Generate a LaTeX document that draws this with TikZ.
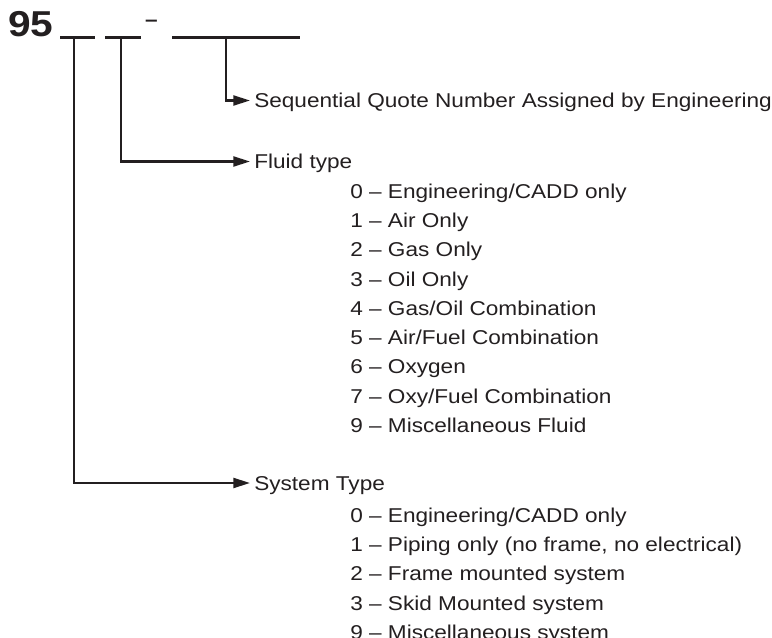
\documentclass[tikz,border=0pt]{standalone}
\usepackage{fontspec}
\setmainfont[FakeStretch=1.13]{Liberation Sans}
\usetikzlibrary{arrows.meta}
\definecolor{ink}{RGB}{35,31,32}

\begin{document}
\begin{tikzpicture}[x=0.75pt, y=-0.75pt, ink,
    item/.style={anchor=west, inner sep=0pt, text height=10.74pt, text depth=0pt, font=\fontsize{15}{18}\selectfont},
    title/.style={item, inner xsep=3pt},
    blank/.style={line width=1.6pt},
    lead/.style={line width=1.6pt, -{Triangle[length=12.5pt, width=7.5pt]}}]

    \useasboundingbox (0,0) rectangle (772,638);

    \node[anchor=base west, inner sep=0pt, font=\fontsize{27}{30}\selectfont\bfseries] (code) at (8,37) {95};
    \node[anchor=base, inner sep=0pt, font=\fontsize{15}{18}\selectfont\bfseries] (dash) at (151.5,26.5) {–};

    \draw[blank] (60,37.5) -- (95,37.5);
    \draw[blank] (105,37.5) -- (141,37.5);
    \draw[blank] (172,37.5) -- (300,37.5);

    \coordinate (sysTap) at (74,37.5);
    \coordinate (fluidTap) at (121,37.5);
    \coordinate (quoteTap) at (226,37.5);

    \node[title] (quote) at (250,100.5) {Sequential Quote Number Assigned by Engineering};
    \node[title] (fluid) at (250,161.5) {Fluid type};
    \node[title] (system) at (250,483) {System Type};

    \draw[lead] (quoteTap) |- (quote);
    \draw[lead] (fluidTap) |- (fluid);
    \draw[lead] (sysTap) |- (system);

    \foreach \txt [count=\i from 0] in {0 – Engineering/CADD only, 1 – Air Only, 2 – Gas Only, 3 – Oil Only,
        4 – Gas/Oil Combination, 5 – Air/Fuel Combination, 6 – Oxygen, 7 – Oxy/Fuel Combination, 9 – Miscellaneous Fluid}
        \node[item] (fluid\i) at (350,191+29.3*\i) {\txt};

    \foreach \txt [count=\i from 0] in {0 – Engineering/CADD only, {1 – Piping only (no frame, no electrical)},
        2 – Frame mounted system, 3 – Skid Mounted system, 9 – Miscellaneous system}
        \node[item] (sys\i) at (350,515+29.3*\i) {\txt};

\end{tikzpicture}
\end{document}
